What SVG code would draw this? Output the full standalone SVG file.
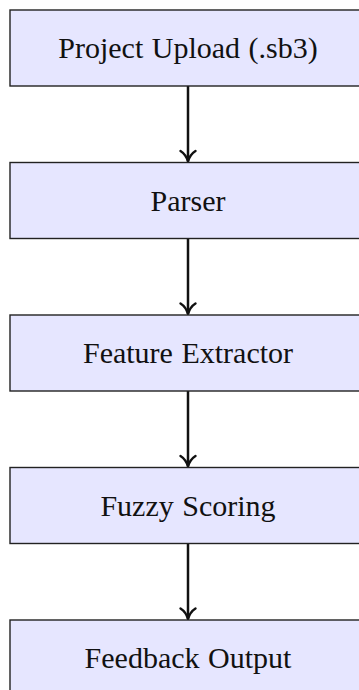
<svg xmlns="http://www.w3.org/2000/svg" width="359" height="690" viewBox="0 0 359 690">
<style>
.box{fill:#e6e6ff;stroke:#222;stroke-width:1.4}
.lbl{font-family:"Liberation Serif","Times New Roman",serif;font-size:30px;fill:#111;text-anchor:middle;word-spacing:1px}
.edge{stroke:#111;stroke-width:2.5;fill:none}
.head{stroke:#111;stroke-width:2.4;fill:none;stroke-linecap:round;stroke-linejoin:round}
</style>
<rect width="359" height="690" fill="#fff"/>
<g id="connectors">
<g id="e1"><line class="edge" x1="188" y1="86" x2="188" y2="161.5"/><path class="head" d="M180.5,151 Q186,154.5 188,161.5 Q190,154.5 195.5,151"/></g>
<g id="e2"><line class="edge" x1="188" y1="238.5" x2="188" y2="314"/><path class="head" d="M180.5,303.5 Q186,307 188,314 Q190,307 195.5,303.5"/></g>
<g id="e3"><line class="edge" x1="188" y1="391" x2="188" y2="466.5"/><path class="head" d="M180.5,456 Q186,459.5 188,466.5 Q190,459.5 195.5,456"/></g>
<g id="e4"><line class="edge" x1="188" y1="543.5" x2="188" y2="619"/><path class="head" d="M180.5,608.5 Q186,612 188,619 Q190,612 195.5,608.5"/></g>
</g>
<g id="n1"><rect class="box" x="10" y="10" width="356" height="76"/><text class="lbl" x="188" y="58">Project Upload (.sb3)</text></g>
<g id="n2"><rect class="box" x="10" y="162.5" width="356" height="76"/><text class="lbl" x="188" y="210.5">Parser</text></g>
<g id="n3"><rect class="box" x="10" y="315" width="356" height="76"/><text class="lbl" x="188" y="363">Feature Extractor</text></g>
<g id="n4"><rect class="box" x="10" y="467.5" width="356" height="76"/><text class="lbl" x="188" y="515.5">Fuzzy Scoring</text></g>
<g id="n5"><rect class="box" x="10" y="620" width="356" height="76"/><text class="lbl" x="188" y="668">Feedback Output</text></g>
</svg>
